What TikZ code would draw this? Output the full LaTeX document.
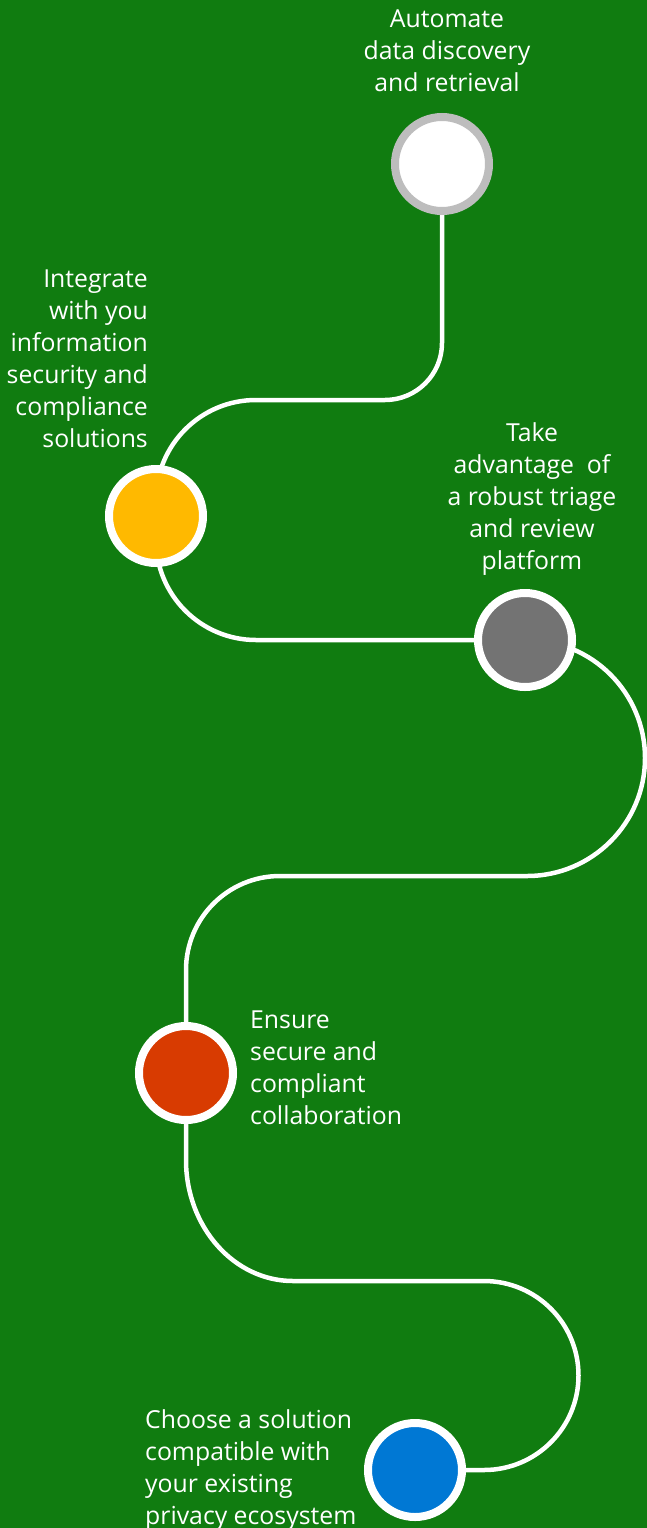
\documentclass[tikz,border=0pt]{standalone}
\usepackage{fontspec}
\setmainfont{Open Sans}
\usetikzlibrary{backgrounds}
\definecolor{msgreen}{HTML}{107C10}
\definecolor{ringgray}{HTML}{BDBDBD}
\definecolor{stopyellow}{HTML}{FFB900}
\definecolor{stopgray}{HTML}{737373}
\definecolor{stopred}{HTML}{D83B01}
\definecolor{stopblue}{HTML}{0078D4}
\begin{document}
\begin{tikzpicture}[x=1pt, y=-1pt,
    stop/.style={circle, draw=white, line width=8pt, minimum size=94pt, inner sep=0pt},
    road/.style={draw=white, line width=4.5pt},
    label/.style={text=white, inner sep=0pt, font=\fontsize{24.8}{32}\selectfont}]
      \useasboundingbox (0, 0) rectangle (647, 1528);

      \node [stop, draw=ringgray, fill=white] (s1) at (442, 164) {};
      \node [stop, fill=stopyellow] (s2) at (156, 516) {};
      \node [stop, fill=stopgray] (s3) at (525, 640) {};
      \node [stop, fill=stopred] (s4) at (186, 1073) {};
      \node [stop, fill=stopblue] (s5) at (415, 1470) {};

      \begin{scope}[on background layer]
        \fill [msgreen] (0, 0) rectangle (647, 1528);
        \draw [road] (s1.center) -- (442, 343) .. controls (442, 374.5) and (416.5, 400) .. (385, 400)
          -- (256, 400) .. controls (200.8, 400) and (156, 444.8) .. (156, 500) -- (s2.center);
        \draw [road] (s2.center) -- (156, 540) .. controls (156, 595.2) and (200.8, 640) .. (256, 640)
          -- (s3.center);
        \draw [road] (s3.center) -- (527, 640) .. controls (592.2, 640) and (645, 692.8) .. (645, 758)
          .. controls (645, 823.2) and (592.2, 876) .. (527, 876)
          -- (280, 876) .. controls (228.1, 876) and (186, 918.1) .. (186, 970) -- (s4.center);
        \draw [road] (s4.center) -- (186, 1160) .. controls (186, 1226.8) and (233.9, 1281) .. (293, 1281)
          -- (484, 1281) .. controls (536.2, 1281) and (578.5, 1323.3) .. (578.5, 1375.5)
          .. controls (578.5, 1427.7) and (536.2, 1470) .. (484, 1470) -- (s5.center);
      \end{scope}

      \node [label, anchor=north, align=center] (t1) at (447, 10) {Automate\\data discovery\\and retrieval};
      \node [label, anchor=north east, align=right] (t2) at (148, 270) {Integrate\\with you\\information\\security and\\compliance\\solutions};
      \node [label, anchor=north, align=center] (t3) at (532, 422) {Take\\advantage\ \ of\\a robust triage\\and review\\platform};
      \node [label, anchor=north west, align=left] (t4) at (250, 1011) {Ensure\\secure and\\compliant\\collaboration};
      \node [label, anchor=north west, align=left] (t5) at (145, 1409) {Choose a solution\\compatible with\\your existing\\privacy ecosystem};
    \end{tikzpicture}
\end{document}
